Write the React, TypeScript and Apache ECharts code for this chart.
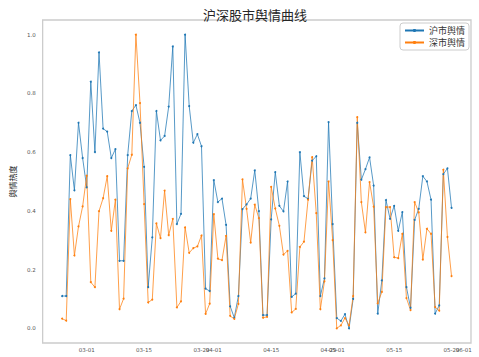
import React, { useEffect, useRef } from "react";
import * as echarts from "echarts";

const dates = [
  "2020-02-24","2020-02-25","2020-02-26","2020-02-27","2020-02-28","2020-02-29",
  "2020-03-01","2020-03-02","2020-03-03","2020-03-04","2020-03-05","2020-03-06","2020-03-07","2020-03-08","2020-03-09","2020-03-10",
  "2020-03-11","2020-03-12","2020-03-13","2020-03-14","2020-03-15","2020-03-16","2020-03-17","2020-03-18","2020-03-19","2020-03-20",
  "2020-03-21","2020-03-22","2020-03-23","2020-03-24","2020-03-25","2020-03-26","2020-03-27","2020-03-28","2020-03-29","2020-03-30","2020-03-31",
  "2020-04-01","2020-04-02","2020-04-03","2020-04-04","2020-04-05","2020-04-06","2020-04-07","2020-04-08","2020-04-09","2020-04-10",
  "2020-04-11","2020-04-12","2020-04-13","2020-04-14","2020-04-15","2020-04-16","2020-04-17","2020-04-18","2020-04-19","2020-04-20",
  "2020-04-21","2020-04-22","2020-04-23","2020-04-24","2020-04-25","2020-04-26","2020-04-27","2020-04-28","2020-04-29","2020-04-30",
  "2020-05-01","2020-05-02","2020-05-03","2020-05-04","2020-05-05","2020-05-06","2020-05-07","2020-05-08","2020-05-09","2020-05-10",
  "2020-05-11","2020-05-12","2020-05-13","2020-05-14","2020-05-15","2020-05-16","2020-05-17","2020-05-18","2020-05-19","2020-05-20",
  "2020-05-21","2020-05-22","2020-05-23","2020-05-24","2020-05-25","2020-05-26","2020-05-27","2020-05-28","2020-05-29",
];

const shValues = [
  0.11, 0.11, 0.59, 0.47, 0.70, 0.58, 0.48, 0.84, 0.60, 0.94,
  0.68, 0.67, 0.58, 0.61, 0.23, 0.23, 0.59, 0.74, 0.76, 0.70,
  0.55, 0.14, 0.31, 0.74, 0.64, 0.655, 0.755, 0.96, 0.355, 0.39,
  1.0, 0.757, 0.632, 0.661, 0.62, 0.135, 0.127, 0.505, 0.43, 0.442,
  0.352, 0.075, 0.036, 0.11, 0.406, 0.422, 0.442, 0.538, 0.399, 0.045,
  0.045, 0.371, 0.532, 0.417, 0.398, 0.50, 0.107, 0.118, 0.60, 0.45,
  0.441, 0.571, 0.586, 0.11, 0.17, 0.702, 0.355, 0.035, 0.025, 0.048,
  0.0, 0.10, 0.70, 0.506, 0.542, 0.582, 0.486, 0.05, 0.163, 0.437,
  0.373, 0.417, 0.332, 0.396, 0.14, 0.07, 0.369, 0.407, 0.518, 0.50,
  0.438, 0.05, 0.078, 0.525, 0.545, 0.41,
];

const szValues = [
  0.033, 0.026, 0.44, 0.248, 0.347, 0.415, 0.52, 0.157, 0.14, 0.399,
  0.443, 0.518, 0.332, 0.438, 0.065, 0.101, 0.545, 0.591, 1.0, 0.767,
  0.423, 0.088, 0.098, 0.357, 0.307, 0.469, 0.317, 0.373, 0.071, 0.092,
  0.344, 0.257, 0.273, 0.279, 0.316, 0.049, 0.084, 0.389, 0.237, 0.232,
  0.315, 0.042, 0.032, 0.083, 0.507, 0.407, 0.292, 0.421, 0.375, 0.036,
  0.039, 0.482, 0.408, 0.349, 0.251, 0.264, 0.054, 0.066, 0.277, 0.295,
  0.438, 0.583, 0.392, 0.065, 0.16, 0.50, 0.30, 0.0, 0.01, 0.035,
  0.01, 0.11, 0.719, 0.43, 0.327, 0.498, 0.414, 0.085, 0.124, 0.413,
  0.413, 0.242, 0.239, 0.322, 0.103, 0.062, 0.43, 0.395, 0.234, 0.339,
  0.322, 0.072, 0.06, 0.54, 0.311, 0.178,
];

const xTickDates = [
  "2020-03-01","2020-03-15","2020-03-29","2020-04-01","2020-04-15",
  "2020-04-29","2020-05-01","2020-05-15","2020-05-29",
];
const xLastTickDates = ["2020-06-01"];
const yTicks = [0, 0.2, 0.4, 0.6, 0.8, 1.0];

const seriesNames = ["沪市舆情", "深市舆情"];
const colors = ["#1f77b4", "#ff7f0e"];

function toTs(s: string): number {
  const [y, m, d] = s.split("-").map(Number);
  return Date.UTC(y, m - 1, d);
}

function fmtDate(v: number): string {
  const d = new Date(v);
  const mm = String(d.getUTCMonth() + 1).padStart(2, "0");
  const dd = String(d.getUTCDate()).padStart(2, "0");
  return mm + "-" + dd;
}

export default function App() {
  const ref = useRef<HTMLDivElement>(null);
  useEffect(() => {
    if (!ref.current) return;
    const chart = echarts.init(ref.current, undefined, { renderer: "svg" });
    const t0 = toTs(dates[0]);
    const t1 = toTs(dates[dates.length - 1]);
    const pad = (t1 - t0) * 0.05;
    const numFont = "DejaVu Sans";
    const cjk = "'Noto Sans CJK SC', 'DejaVu Sans', sans-serif";
    const xLabelBase = {
      fontFamily: numFont,
      fontSize: 5.5,
      color: "#555555",
      margin: 4,
      hideOverlap: false,
      formatter: fmtDate,
    };
    chart.setOption({
      animation: false,
      backgroundColor: "#ffffff",
      title: {
        text: "沪深股市舆情曲线",
        left: 250,
        top: 3,
        textAlign: "center",
        textStyle: { fontFamily: cjk, fontSize: 13, fontWeight: "normal", color: "#262626" },
      },
      legend: {
        orient: "vertical",
        left: 400,
        top: 23,
        padding: [3, 4, 3, 4],
        itemGap: 3,
        itemWidth: 19,
        itemHeight: 4,
        borderColor: "#cccccc",
        borderWidth: 1,
        borderRadius: 3,
        backgroundColor: "#ffffff",
        textStyle: { fontFamily: cjk, fontSize: 9, color: "#333333" },
        data: seriesNames,
      },
      grid: {
        left: 29,
        top: 20,
        right: 8,
        bottom: 14,
        show: true,
        borderColor: "#cccccc",
        borderWidth: 1.3,
        backgroundColor: "#ffffff",
      },
      xAxis: [
        {
          type: "value",
          position: "bottom",
          min: t0 - pad,
          max: t1 + pad,
          axisLine: { show: false },
          axisTick: { show: false },
          splitLine: { show: false },
          axisLabel: { ...xLabelBase, customValues: xTickDates.map(toTs), showMaxLabel: true, showMinLabel: true },
        },
        {
          type: "value",
          position: "bottom",
          offset: 0,
          min: t0 - pad,
          max: t1 + pad,
          axisLine: { show: false },
          axisTick: { show: false },
          splitLine: { show: false },
          axisLabel: { ...xLabelBase, customValues: xLastTickDates.map(toTs), showMaxLabel: true, showMinLabel: true },
        },
      ],
      yAxis: {
        type: "value",
        min: -0.05,
        max: 1.05,
        name: "舆情热度",
        nameLocation: "middle",
        nameRotate: 90,
        nameGap: 21,
        nameTextStyle: { fontFamily: cjk, fontSize: 8, color: "#262626" },
        axisLine: { show: false },
        axisTick: { show: false },
        splitLine: { show: false },
        axisLabel: {
          customValues: yTicks,
          fontFamily: numFont,
          fontSize: 5.5,
          color: "#555555",
          margin: 7,
          formatter: (v: number) => v.toFixed(1),
        },
      },
      series: [
        {
          name: seriesNames[0],
          type: "line",
          xAxisIndex: 0,
          data: dates.map((d, i) => [toTs(d), shValues[i]]),
          symbol: "circle",
          symbolSize: 2,
          showSymbol: true,
          lineStyle: { width: 0.75, color: colors[0] },
          itemStyle: { color: colors[0] },
        },
        {
          name: seriesNames[1],
          type: "line",
          xAxisIndex: 0,
          data: dates.map((d, i) => [toTs(d), szValues[i]]),
          symbol: "circle",
          symbolSize: 2,
          showSymbol: true,
          lineStyle: { width: 0.75, color: colors[1] },
          itemStyle: { color: colors[1] },
        },
      ],
    });
    return () => chart.dispose();
  }, []);
  return (
    <div
      ref={ref}
      style={{ position: "fixed", left: 0, top: 0, width: 479, height: 357, background: "#fff" }}
    />
  );
}
